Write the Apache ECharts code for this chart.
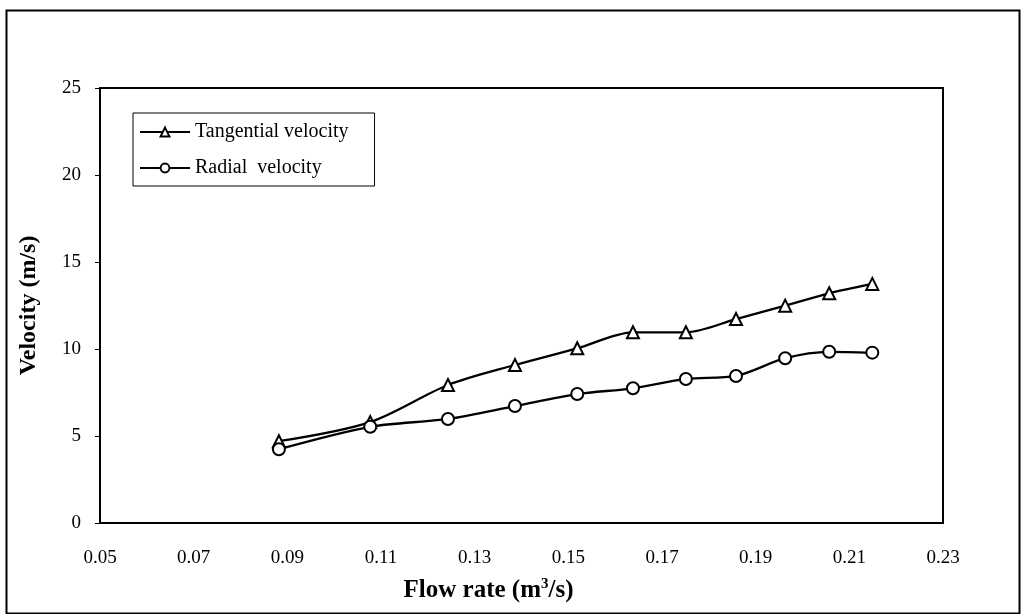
<!DOCTYPE html>
<html>
<head>
<meta charset="utf-8">
<script src="https://cdn.jsdelivr.net/npm/echarts@6/dist/echarts.min.js"></script>
<style>
html,body{margin:0;padding:0;background:#fff;}
#c{width:1023px;height:614px;}
</style>
</head>
<body>
<div id="c"></div>
<script>
const flowRate = [0.0882, 0.1077, 0.1243, 0.1386, 0.1519, 0.1638, 0.1751, 0.1858, 0.1963, 0.2057, 0.2149];
const tangential = [4.7, 5.8, 7.93, 9.08, 10.04, 10.96, 10.96, 11.72, 12.49, 13.2, 13.74];
const radial = [4.24, 5.53, 5.98, 6.72, 7.41, 7.74, 8.28, 8.45, 9.47, 9.84, 9.79];
const xTicks = ['0.05','0.07','0.09','0.11','0.13','0.15','0.17','0.19','0.21','0.23'];

const chart = echarts.init(document.getElementById('c'), null, {renderer:'canvas'});
const F = '"Liberation Serif", "DejaVu Serif", serif';
const pair = (xs, ys) => xs.map((x,i)=>[x, ys[i]]);
chart.setOption({
  animation:false,
  backgroundColor:'#fff',
  graphic:[{type:'rect', left:4, top:8, shape:{width:1013, height:603}, style:{fill:'none', stroke:'#000', lineWidth:2}, z:-1}],
  grid:{left:100, right:80, top:88, bottom:91, show:true, borderColor:'#000', borderWidth:2, backgroundColor:'transparent'},
  legend:{
    left:133, top:113, orient:'vertical', itemGap:16,
    backgroundColor:'#fff', borderColor:'#000', borderWidth:1, padding:[9,26,8,6],
    itemWidth:50, itemHeight:11,
    textStyle:{fontFamily:F, fontSize:20, color:'#000'},
    data:[{name:'Tangential velocity'},{name:'Radial  velocity'}]
  },
  xAxis:{
    type:'value', min:0.05, max:0.23, interval:0.02,
    axisLine:{show:true, lineStyle:{color:'#000', width:2}},
    axisTick:{show:false},
    splitLine:{show:false},
    axisLabel:{margin:26, fontFamily:F, fontSize:19, color:'#000',
      formatter:(v)=>{const i=Math.round((v-0.05)/0.02); return xTicks[i]||'';}},
    name:'Flow rate (m{sup|3}/s)', nameLocation:'middle', nameGap:54,
    nameTextStyle:{fontFamily:F, fontSize:25, fontWeight:'bold', color:'#000', padding:[0,66,0,0],
      rich:{sup:{fontFamily:F, fontSize:15, fontWeight:'bold', color:'#000', verticalAlign:'top', padding:[0,0,12,0]}}}
  },
  yAxis:{
    type:'value', min:0, max:25, interval:5,
    axisLine:{show:true, lineStyle:{color:'#000', width:2}},
    axisTick:{show:true, length:5, lineStyle:{color:'#000', width:1}},
    splitLine:{show:false},
    axisLabel:{margin:19, fontFamily:F, fontSize:19, color:'#000'},
    name:'Velocity (m/s)', nameLocation:'middle', nameGap:59, nameRotate:90,
    nameTextStyle:{fontFamily:F, fontSize:24, fontWeight:'bold', color:'#000'}
  },
  series:[
    {name:'Tangential velocity', type:'line', data:pair(flowRate, tangential), smooth:0.3,
      symbol:'triangle', symbolSize:12, lineStyle:{color:'#000', width:2.3},
      itemStyle:{color:'#fff', borderColor:'#000', borderWidth:2}},
    {name:'Radial  velocity', type:'line', data:pair(flowRate, radial), smooth:0.3,
      symbol:'circle', symbolSize:12, lineStyle:{color:'#000', width:2.3},
      itemStyle:{color:'#fff', borderColor:'#000', borderWidth:2}}
  ]
});
</script>
</body>
</html>
